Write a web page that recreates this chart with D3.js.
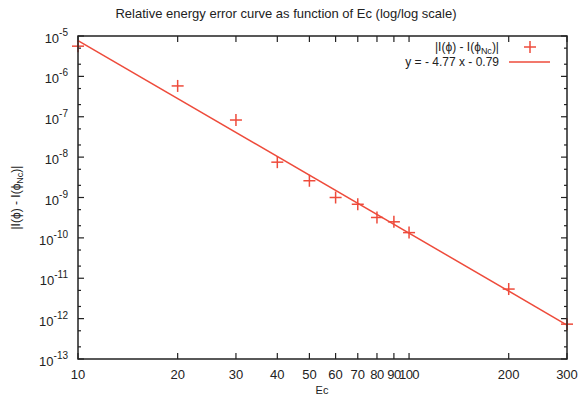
<!DOCTYPE html>
<html>
<head>
<meta charset="utf-8">
<script src="https://cdn.jsdelivr.net/npm/d3@7"></script>
<style>
  body { margin: 0; background: #fff; }
  text { font-family: "Liberation Sans", Arial, sans-serif; fill: #222; }
</style>
</head>
<body>
<div id="chart-area"></div>
<script>
// Data
const ecValues = [10, 20, 30, 40, 50, 60, 70, 80, 90, 100, 200, 300];
const errValues = [5.6e-6, 5.8e-7, 8.3e-8, 7.5e-9, 2.6e-9, 1.0e-9, 6.8e-10, 3.2e-10, 2.5e-10, 1.35e-10, 5.4e-12, 7.3e-13];
const xTicks = [10, 20, 30, 40, 50, 60, 70, 80, 90, 100, 200, 300];
const yExponents = [-5, -6, -7, -8, -9, -10, -11, -12, -13];
// fit: ln(err) = slope * ln(Ec) + intercept
const fitSlope = -4.77;
const fitIntercept = -0.79;

const red = '#ee4b3b';

// Margin
const margin = { left: 78, right: 17, top: 36, bottom: 43 };
const width = 584 - margin.left - margin.right;
const height = 402 - margin.top - margin.bottom;

const svg = d3.select('#chart-area')
    .append('svg')
    .attr('width', 584)
    .attr('height', 402);

const g = svg.append('g')
    .attr('transform', 'translate(' + margin.left + ', ' + margin.top + ')');

// Scales
const x = d3.scaleLog().domain([10, 300]).range([0, width]);
const y = d3.scaleLog().domain([1e-13, 1e-5]).range([height, 0]);

// Title
svg.append('text')
    .attr('x', 286)
    .attr('y', 18)
    .attr('text-anchor', 'middle')
    .attr('font-size', '13px')
    .text('Relative energy error curve as function of Ec (log/log scale)');

// Minor y ticks at 2 and 5 per decade
const minorY = [];
yExponents.slice(1).forEach((e) => {
    minorY.push(2 * Math.pow(10, e));
    minorY.push(5 * Math.pow(10, e));
});

const tickColor = '#222';
// Bottom / top ticks
xTicks.forEach((v) => {
    g.append('line').attr('x1', x(v)).attr('x2', x(v))
        .attr('y1', height).attr('y2', height - 6)
        .attr('stroke', tickColor).attr('stroke-width', 1.2);
    g.append('line').attr('x1', x(v)).attr('x2', x(v))
        .attr('y1', 0).attr('y2', 6)
        .attr('stroke', tickColor).attr('stroke-width', 1.2);
});
// Left / right ticks
yExponents.forEach((e) => {
    const v = Math.pow(10, e);
    g.append('line').attr('x1', 0).attr('x2', 6)
        .attr('y1', y(v)).attr('y2', y(v))
        .attr('stroke', tickColor).attr('stroke-width', 1.2);
    g.append('line').attr('x1', width).attr('x2', width - 6)
        .attr('y1', y(v)).attr('y2', y(v))
        .attr('stroke', tickColor).attr('stroke-width', 1.2);
});
minorY.forEach((v) => {
    g.append('line').attr('x1', 0).attr('x2', 3)
        .attr('y1', y(v)).attr('y2', y(v))
        .attr('stroke', tickColor).attr('stroke-width', 1.2);
    g.append('line').attr('x1', width).attr('x2', width - 3)
        .attr('y1', y(v)).attr('y2', y(v))
        .attr('stroke', tickColor).attr('stroke-width', 1.2);
});

// X tick labels
g.selectAll('.xlabel').data(xTicks).enter()
    .append('text')
    .attr('class', 'xlabel')
    .attr('x', (d) => x(d))
    .attr('y', height + 20)
    .attr('text-anchor', 'middle')
    .attr('font-size', '13px')
    .attr('letter-spacing', (d) => (d >= 80 && d <= 100) ? '-0.6px' : null)
    .text((d) => d);

// Y tick labels
yExponents.forEach((e) => {
    const t = g.append('text')
        .attr('x', -10)
        .attr('y', y(Math.pow(10, e)) + 7)
        .attr('text-anchor', 'end')
        .attr('font-size', '13px');
    t.append('tspan').text('10');
    t.append('tspan').attr('dy', -7).attr('font-size', '10px').text(e);
});

// Axis labels
svg.append('text')
    .attr('x', 322)
    .attr('y', 394)
    .attr('text-anchor', 'middle')
    .attr('font-size', '11px')
    .text('Ec');

const yl = svg.append('text')
    .attr('transform', 'translate(20, ' + (margin.top + height / 2) + ') rotate(-90)')
    .attr('text-anchor', 'middle')
    .attr('font-size', '12px');
yl.append('tspan').text('|I(ϕ)  - I(ϕ');
yl.append('tspan').attr('dy', 3).attr('font-size', '9px').text('Nc');
yl.append('tspan').attr('dy', -3).text(')|');

// Fit line
const fit = (e) => Math.exp(fitSlope * Math.log(e) + fitIntercept);
g.append('line')
    .attr('x1', x(10)).attr('y1', y(fit(10)))
    .attr('x2', x(300)).attr('y2', y(fit(300)))
    .attr('stroke', red)
    .attr('stroke-width', 1.5);

// Points
const pts = ecValues.map((e, i) => ({ ec: e, err: errValues[i] }));
const plus = (sel, s) => {
    sel.append('line').attr('x1', -s).attr('x2', s).attr('y1', 0).attr('y2', 0);
    sel.append('line').attr('x1', 0).attr('x2', 0).attr('y1', -s).attr('y2', s);
};
g.selectAll('.pt').data(pts).enter()
    .append('g')
    .attr('class', 'pt')
    .attr('transform', (d) => 'translate(' + x(d.ec) + ',' + y(d.err) + ')')
    .attr('stroke', red)
    .attr('stroke-width', 1.5)
    .each(function () { plus(d3.select(this), 6); });

// Frame
g.append('rect')
    .attr('width', width)
    .attr('height', height)
    .attr('fill', 'none')
    .attr('stroke', '#222')
    .attr('stroke-width', 1.5);

// Legend
const l1 = svg.append('text')
    .attr('x', 499)
    .attr('y', 51)
    .attr('text-anchor', 'end')
    .attr('font-size', '12px');
l1.append('tspan').text('|I(ϕ)  - I(ϕ');
l1.append('tspan').attr('dy', 3).attr('font-size', '9px').text('Nc');
l1.append('tspan').attr('dy', -3).text(')|');

svg.append('text')
    .attr('x', 499)
    .attr('y', 66)
    .attr('text-anchor', 'end')
    .attr('font-size', '12px')
    .text('y = - 4.77 x - 0.79');

const lp = svg.append('g')
    .attr('transform', 'translate(530, 47)')
    .attr('stroke', red)
    .attr('stroke-width', 1.5);
plus(lp, 6);

svg.append('line')
    .attr('x1', 509).attr('x2', 550)
    .attr('y1', 62).attr('y2', 62)
    .attr('stroke', red)
    .attr('stroke-width', 1.5);
</script>
</body>
</html>
